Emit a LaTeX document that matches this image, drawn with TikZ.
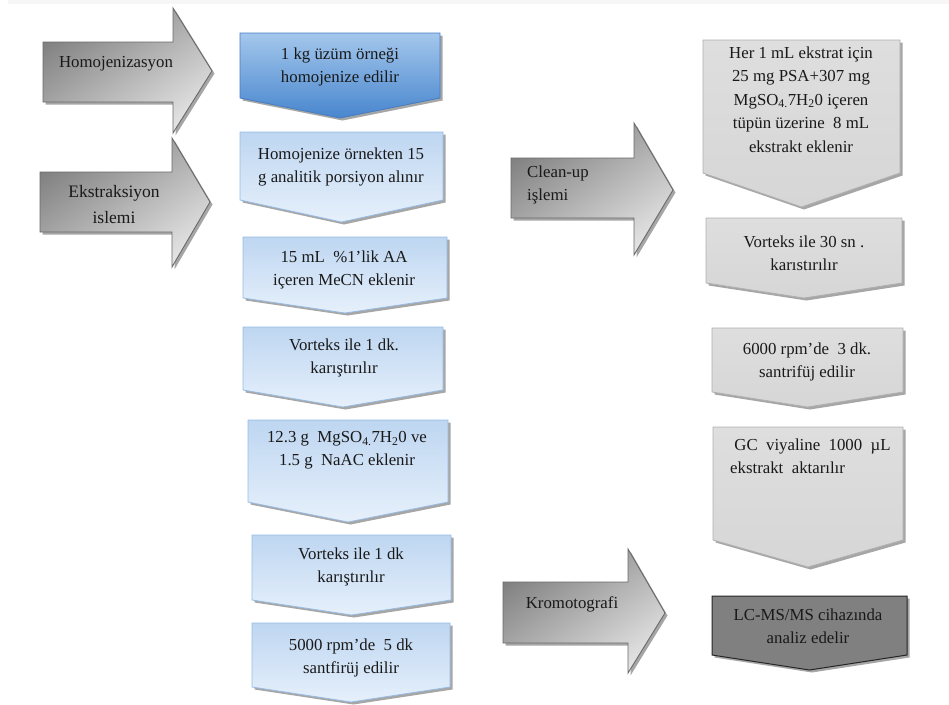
\documentclass[tikz,border=0pt]{standalone}
\usepackage{fontspec}
\setmainfont{Liberation Serif}
\usetikzlibrary{shadows}
\definecolor{bluetop}{RGB}{164,199,236}
\definecolor{bluebot}{RGB}{72,134,206}
\definecolor{blueedge}{RGB}{70,125,195}
\definecolor{lbtop}{RGB}{190,214,241}
\definecolor{lbbot}{RGB}{230,240,251}
\definecolor{lbedge}{RGB}{150,187,228}
\definecolor{grtop}{RGB}{222,222,222}
\definecolor{grmid}{RGB}{242,242,242}
\definecolor{grbot}{RGB}{214,214,214}
\definecolor{gredge}{RGB}{175,175,175}
\definecolor{arleft}{RGB}{128,128,128}
\definecolor{arright}{RGB}{226,226,226}
\definecolor{aredge}{RGB}{105,105,105}
\definecolor{dkfill}{RGB}{128,128,128}
\newcommand\chevbox[6]{\path[#6] (#1,#3) -- (#2,#3) -- (#2,#4) -- ({(#1+#2)/2},#5) -- (#1,#4) -- cycle;}
\newcommand\rarrowshape[9]{\path[#9] (#1,#2) -- (#4,#2) -- (#4,#5) -- (#7,#8) -- (#4,#6) -- (#4,#3) -- (#1,#3) -- cycle;}
\tikzset{
  x=1pt, y=-1pt,
  txt/.style={font=\fontsize{16.8}{22.5}\selectfont, align=center, inner sep=0pt, anchor=base, text=black!90},
  shad/.style={drop shadow={shadow xshift=2.5pt, shadow yshift=-2.5pt, fill=black, opacity=0.35}},
  darkbluebox/.style={shad, draw=blueedge, line width=0.8pt, top color=bluetop, bottom color=bluebot},
  lightbluebox/.style={shad, draw=lbedge, line width=0.8pt, top color=lbtop, bottom color=lbbot},
  graybox/.style={shad, draw=gredge, line width=0.8pt, top color=grtop, middle color=grmid, bottom color=grbot},
  darkbox/.style={shad, draw=black!85, line width=1pt, fill=dkfill},
  grayarrow/.style={shad, draw=aredge, line width=0.9pt, shading=axis, left color=arleft, right color=arright, shading angle=35},
}
\begin{document}
\begin{tikzpicture}
\useasboundingbox (0,0) rectangle (949,704);
\fill[gray!7] (8,0) rectangle (949,4);
% left arrows
\rarrowshape{43}{42}{102}{173}{8}{133}{212}{71}{grayarrow}
\node[txt] (homo) at (116,67) {Homojenizasyon};
\rarrowshape{40}{172}{232}{172}{138}{267}{210}{202}{grayarrow}
\node[txt, font=\fontsize{17.5}{25.5}\selectfont] (ekst) at (114,223) {Ekstraksiyon\\islemi};
\rarrowshape{511}{158}{218}{634}{123}{255}{673}{190}{grayarrow}
\node[txt, align=left, anchor=base west] (clean) at (527,200) {Clean-up\\işlemi};
\rarrowshape{503}{582}{643}{628}{549}{673}{665}{613}{grayarrow}
\node[txt] (krom) at (572,608) {Kromotografi};
% middle column
\chevbox{240}{440}{33}{98}{118}{darkbluebox}
\node[txt] (m1) at (340,82) {1 kg üzüm örneği\\homojenize edilir};
\chevbox{240}{443}{132}{200}{222}{lightbluebox}
\node[txt] (m2) at (341,182) {Homojenize örnekten 15\\g analitik porsiyon alınır};
\chevbox{243}{447}{237}{298}{313}{lightbluebox}
\node[txt] (m3) at (344,285) {15 mL~~\%1'lik AA\\içeren MeCN eklenir};
\chevbox{243}{443}{327}{390}{407}{lightbluebox}
\node[txt] (m4) at (344,373) {Vorteks ile 1 dk.\\karıştırılır};
\chevbox{248}{448}{420}{502}{522}{lightbluebox}
\node[txt] (m5) at (347,465) {12.3 g~~MgSO\textsubscript{4.}7H\textsubscript{2}0 ve\\1.5 g~~NaAC eklenir};
\chevbox{252}{451}{535}{600}{615}{lightbluebox}
\node[txt] (m6) at (351,582) {Vorteks ile 1 dk\\karıştırılır};
\chevbox{252}{450}{623}{687}{702}{lightbluebox}
\node[txt] (m7) at (351,673) {5000 rpm’de~~5 dk\\santfirüj edilir};
% right column
\chevbox{703}{900}{40}{173}{207}{graybox}
\node[txt, font=\fontsize{16.8}{23.5}\selectfont] (r1) at (801,152) {Her 1 mL ekstrat için\\25 mg PSA+307 mg\\MgSO\textsubscript{4.}7H\textsubscript{2}0 içeren\\tüpün üzerine~ 8 mL\\ekstrakt eklenir};
\chevbox{706}{902}{218}{283}{298}{graybox}
\node[txt] (r2) at (804,270) {Vorteks ile 30 sn .\\karıstırılır};
\chevbox{712}{903}{328}{392}{407}{graybox}
\node[txt] (r3) at (807,377) {6000 rpm’de~~3 dk.\\santrifüj edilir};
\chevbox{713}{903}{427}{540}{567}{graybox}
\node[txt, align=left, anchor=base west] (r4) at (730,473) {~GC~~viyaline~~1000~~µL\\ekstrakt~~aktarılır};
\chevbox{712}{907}{596}{655}{670}{darkbox}
\node[txt] (r5) at (808,643) {LC-MS/MS cihazında\\analiz edelir};
\end{tikzpicture}
\end{document}
